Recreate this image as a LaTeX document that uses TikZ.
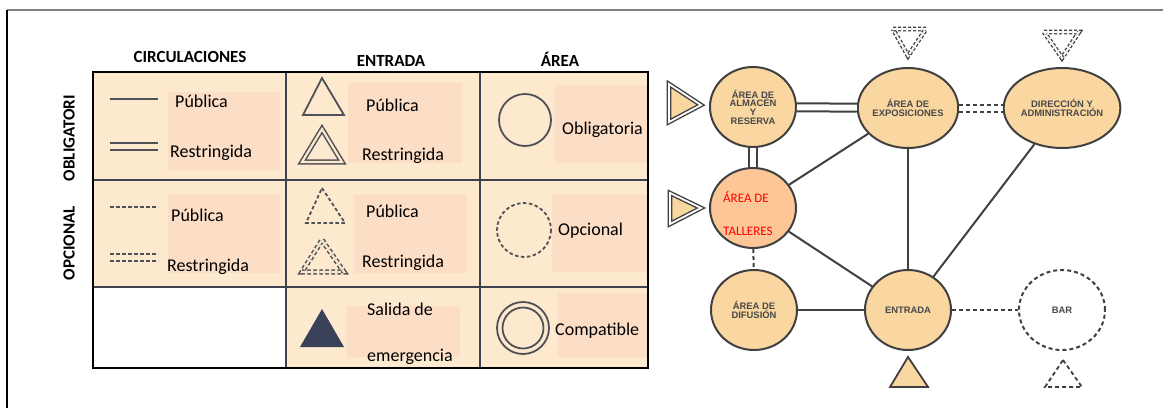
\documentclass[tikz,border=0pt]{standalone}
\usepackage{fontspec}
\setmainfont{Carlito}
\newfontfamily\gfont{Liberation Sans}
\usetikzlibrary{shapes.geometric}
\definecolor{cellfill}{RGB}{252,233,206}
\definecolor{peach}{RGB}{252,222,198}
\definecolor{gridcol}{RGB}{62,67,82}
\definecolor{symcol}{RGB}{80,80,88}
\definecolor{navy}{RGB}{58,66,90}
\definecolor{nodefill}{RGB}{250,214,160}
\definecolor{tallfill}{RGB}{252,198,150}
\definecolor{edgecol}{RGB}{64,64,64}
\definecolor{nodetext}{RGB}{72,72,72}
\definecolor{framegray}{RGB}{128,128,128}
\newcommand{\legfont}{\fontsize{18}{21}\selectfont}
\newcommand{\headfont}{\fontsize{17}{20}\selectfont\bfseries}
\tikzset{
  legtext/.style={anchor=base west, inner sep=0pt, font=\legfont},
  head/.style={anchor=base, inner sep=0pt, font=\headfont},
  rowlab/.style={rotate=90, inner sep=0pt, font=\headfont},
  sym/.style={draw=symcol, line width=1.8pt},
  dsym/.style={sym, dash pattern=on 3.5pt off 2.5pt},
  area/.style={ellipse, draw=edgecol, line width=2pt, fill=nodefill,
    minimum width=86pt, minimum height=80pt, inner sep=0pt, align=center,
    text=nodetext, font=\gfont\bfseries\fontsize{9.4}{8.6}\selectfont},
  edge/.style={draw=edgecol, line width=2pt},
  dedge/.style={edge, dash pattern=on 4pt off 3pt},
  redtext/.style={anchor=base west, inner sep=0pt, text=red, font=\fontsize{13}{15}\selectfont}
}
\begin{document}
\begin{tikzpicture}[x=1pt,y=-1pt]
\useasboundingbox (0,0) rectangle (1163,408);
% frame
\draw[framegray, line width=1.8pt] (7,10) -- (1163,10);
\draw[black, line width=1.2pt] (7,10) -- (7,408);

% ---------- legend table ----------
\fill[cellfill] (93,72) rectangle (648,287);
\fill[cellfill] (286,287) rectangle (648,368);
\fill[peach] (168,92) rectangle (280,170);
\fill[peach] (168,195) rectangle (280,273);
\fill[peach] (348,83) rectangle (462,163);
\fill[peach] (354,195) rectangle (467,273);
\fill[peach] (347,306) rectangle (460,357);
\fill[peach] (555,85) rectangle (647,163);
\fill[peach] (552,195) rectangle (647,272);
\fill[peach] (558,293) rectangle (647,357);
\draw[gridcol, line width=2pt] (286,72) -- (286,368) (480,72) -- (480,368)
  (93,180) -- (648,180) (93,287) -- (648,287);
\draw[black, line width=2.5pt] (93,72) rectangle (648,368);

% headers
\node[head] (hcirc) at (190,62) {CIRCULACIONES};
\node[head] (hent) at (391,66) {ENTRADA};
\node[head] (harea) at (560,66) {ÁREA};
\node[rowlab] (robl) at (69,138) {OBLIGATORI};
\node[rowlab] (ropc) at (69,243) {OPCIONAL};

% circulaciones symbols
\draw[sym] (110,99) -- (158,99);
\draw[sym, line width=1.8pt] (110,143) -- (158,143) (110,150) -- (158,150);
\draw[dsym] (110,207) -- (158,207);
\draw[dsym, line width=1.8pt] (110,254) -- (158,254) (110,261) -- (158,261);
\node[legtext] (t1) at (175,107) {Pública};
\node[legtext] (t2) at (170,157) {Restringida};
\node[legtext] (t3) at (171,221) {Pública};
\node[legtext] (t4) at (167,271) {Restringida};

% entrada symbols
\draw[sym] (322,78) -- (344,115) -- (303,115) -- cycle;
\draw[sym, line width=1.5pt, double=cellfill, double distance=2.2pt] (322,129) -- (342,162) -- (302,162) -- cycle;
\draw[dsym] (322,188) -- (345,223) -- (306,223) -- cycle;
\draw[dsym, line width=1.5pt, double=cellfill, double distance=2.2pt] (322,240) -- (344,272) -- (302,272) -- cycle;
\fill[navy] (322,309) -- (344,347) -- (300,347) -- cycle;
\node[legtext] (t5) at (366,111) {Pública};
\node[legtext] (t6) at (362,160) {Restringida};
\node[legtext] (t7) at (366,217) {Pública};
\node[legtext] (t8) at (362,267) {Restringida};
\node[legtext] (t9) at (367,315) {Salida de};
\node[legtext] (t10) at (367,361) {emergencia};

% area symbols
\draw[sym] (525,120) circle (26);
\draw[dsym] (524,230) circle (27);
\draw[sym] (523,328) circle (26);
\draw[sym] (523,328) circle (20.5);
\node[legtext] (t11) at (562,134) {Obligatoria};
\node[legtext] (t12) at (558,235) {Opcional};
\node[legtext] (t13) at (555,335) {Compatible};

% ---------- graph ----------
\node[area] (alm) at (753,107) {ÁREA DE\\ALMACÉN\\Y\\RESERVA};
\node[area] (expo) at (908,108) {ÁREA DE\\EXPOSICIONES};
\node[area] (dir) at (1062,108) {DIRECCIÓN Y\\ADMINISTRACIÓN};
\node[area, fill=tallfill] (tall) at (753,208) {};
\node[area] (dif) at (754,310) {ÁREA DE\\DIFUSIÓN};
\node[area] (ent) at (908,310) {ENTRADA};
\node[area, fill=white, dash pattern=on 4pt off 3pt] (bar) at (1062,310) {BAR};
\node[redtext] (tall1) at (723,202) {ÁREA DE};
\node[redtext] (tall2) at (723,235) {TALLERES};

\draw[edge, double=white, double distance=6pt] (alm) -- (expo);
\draw[dedge, double=white, double distance=5pt] (expo) -- (dir);
\draw[edge, double=white, double distance=6pt] (alm) -- (tall);
\draw[edge] (tall) -- (expo);
\draw[edge] (expo) -- (ent);
\draw[edge] (dir) -- (ent);
\draw[edge] (tall) -- (ent);
\draw[dedge] (tall) -- (dif);
\draw[edge] (dif) -- (ent);
\draw[dedge] (ent) -- (bar);

% graph triangles
\filldraw[fill=nodefill, draw=edgecol, line width=1.4pt, double=white, double distance=1.8pt] (669,84) -- (701,105) -- (669,122) -- cycle;
\filldraw[fill=nodefill, draw=edgecol, line width=1.4pt, double=white, double distance=1.8pt] (670,193) -- (701,208) -- (670,224) -- cycle;
\draw[edgecol, line width=1.3pt, dash pattern=on 3pt off 2pt, double=white, double distance=2pt] (893,29) -- (926,29) -- (908,56) -- cycle;
\draw[edgecol, line width=1.3pt, dash pattern=on 3pt off 2pt, double=white, double distance=2pt] (1044,32) -- (1079,32) -- (1062,58) -- cycle;
\filldraw[fill=nodefill, draw=edgecol, line width=1.8pt] (908,357) -- (928,387) -- (890,387) -- cycle;
\draw[edgecol, line width=1.8pt, dash pattern=on 4pt off 3pt] (1063,360) -- (1082,387) -- (1045,387) -- cycle;
\end{tikzpicture}
\end{document}
